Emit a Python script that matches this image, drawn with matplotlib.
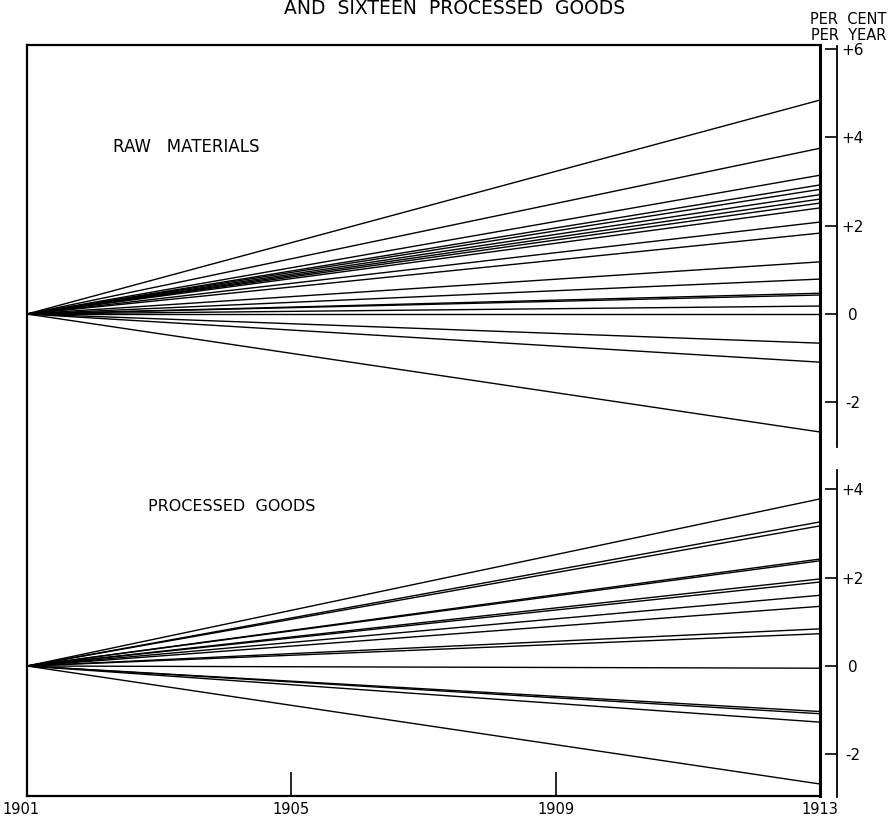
import numpy as np
import matplotlib
matplotlib.use('Agg')
import matplotlib.pyplot as plt
import matplotlib.transforms as mtransforms

# Rates of change, per cent per year, 1901 to 1913
raw_rates = [4.84, 3.75, 3.14, 2.92, 2.82, 2.70, 2.60, 2.51, 2.40, 2.08,
             1.83, 1.18, 0.79, 0.47, 0.43, 0.18, 0.0, -0.66, -1.09, -2.67]
processed_rates = [3.78, 3.26, 3.17, 2.42, 2.38, 1.97, 1.90, 1.60, 1.35,
                   0.84, 0.73, -0.05, -1.03, -1.08, -1.27, -2.67]
years = [1901, 1913]
year_ticks = [1901, 1905, 1909, 1913]
up_ticks = [6, 4, 2, 0, -2]
up_labels = ['+6', '+4', '+2', '0', '-2']
low_ticks = [4, 2, 0, -2]
low_labels = ['+4', '+2', '0', '-2']

W, H = 888, 819
PX = 44.2  # pixels per 1 per cent


def rect(x0, y0, x1, y1):
    # pixel box (top-left origin) -> figure fraction
    return [x0 / W, 1 - y1 / H, (x1 - x0) / W, (y1 - y0) / H]


def spaced(s):
    # wide lettering, like the stencil text on the original
    return '\u2009'.join(s)


plt.rcParams['font.family'] = ['DejaVu Sans']
fig = plt.figure(figsize=(W / 100, H / 100), dpi=100)

# outer frame with year ticks
ax = fig.add_axes(rect(27, 45, 820, 796))
ax.set_xlim(1901, 1913)
ax.set_ylim(0, 1)
ax.set_yticks([])
ax.set_xticks(year_ticks)
ax.set_xticklabels([str(y) for y in year_ticks], fontsize=10.5)
ax.tick_params(axis='x', direction='in', length=17, width=1.2, pad=4)
for s in ax.spines.values():
    s.set_linewidth(1.6)
ax.spines['right'].set_linewidth(2.2)
# first year label sits a little to the left of the frame corner
first = ax.get_xticklabels()[0]
first.set_transform(first.get_transform() +
                    mtransforms.ScaledTranslation(-6 / 100, 0, fig.dpi_scale_trans))

# upper panel: raw materials
ax_up = fig.add_axes(rect(27, 45, 820, 470), facecolor='none')
ax_up.set_xlim(1901, 1913)
ax_up.set_ylim(-(470 - 314) / PX, (314 - 45) / PX)
ax_up.axis('off')
for r in raw_rates:
    ax_up.plot(years, [0, r], color='black', lw=1.0)
ax_up.text(1902.3, 3.78, 'RAW   MATERIALS', fontsize=12, ha='left', va='center')

# lower panel: processed goods
ax_low = fig.add_axes(rect(27, 470, 820, 796), facecolor='none')
ax_low.set_xlim(1901, 1913)
ax_low.set_ylim(-(796 - 666) / PX, (666 - 470) / PX)
ax_low.axis('off')
for r in processed_rates:
    ax_low.plot(years, [0, r], color='black', lw=1.0)
ax_low.text(1902.83, 3.6, 'PROCESSED  GOODS', fontsize=11.5, ha='left', va='center')


def scale_axis(box, lo, hi, ticks, labels):
    sx = fig.add_axes(box, facecolor='none')
    sx.set_ylim(lo, hi)
    sx.set_xticks([])
    for k in ['top', 'bottom', 'right']:
        sx.spines[k].set_visible(False)
    sx.spines['left'].set_linewidth(1.3)
    sx.set_yticks(ticks)
    sx.set_yticklabels(labels, fontsize=11)
    sx.tick_params(axis='y', left=True, right=False, labelleft=False,
                   labelright=True, direction='out', length=8.6, width=1.2, pad=2.2)
    for lbl in sx.get_yticklabels():
        lbl.set_horizontalalignment('center')
    return sx


scale_axis(rect(837, 46, 838, 447), -(447 - 314) / PX, (314 - 46) / PX,
           up_ticks, up_labels)
scale_axis(rect(837, 470, 838, 797), -(797 - 666) / PX, (666 - 470) / PX,
           low_ticks, low_labels)

fig.text(886 / W, 1 - 19 / H, 'PER  CENT', fontsize=10.5, ha='right', va='center')
fig.text(886 / W, 1 - 35 / H, 'PER  YEAR', fontsize=10.5, ha='right', va='center')
fig.text(455 / W, 1 - 8 / H, 'AND  SIXTEEN  PROCESSED  GOODS', fontsize=13.5,
         ha='center', va='center')

fig.savefig('out.png', dpi=100)
